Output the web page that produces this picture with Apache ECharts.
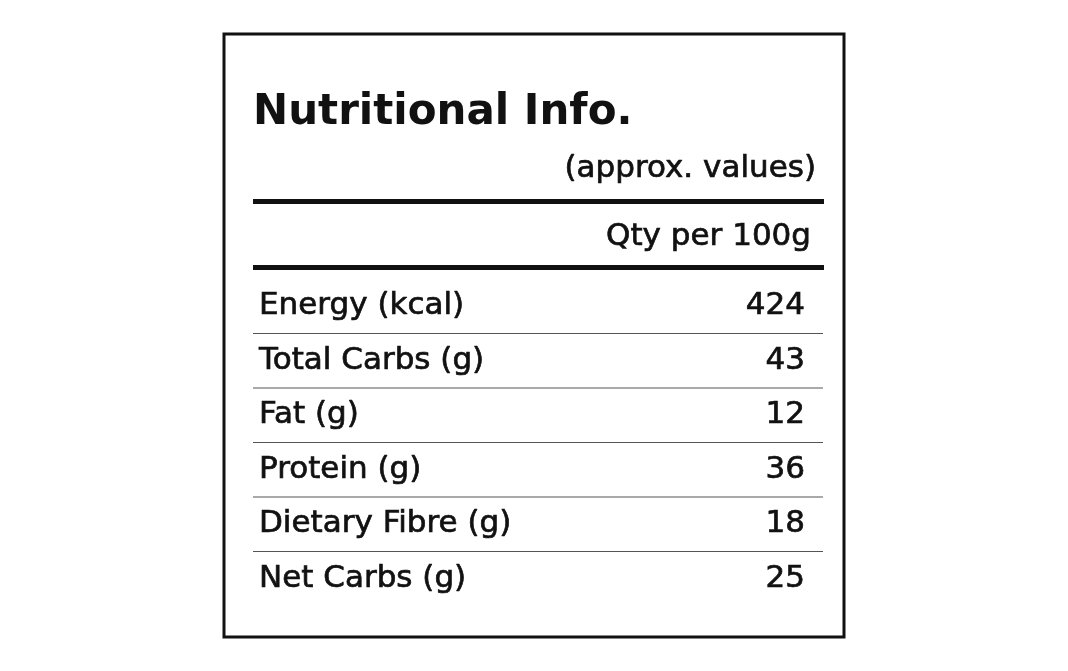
<!DOCTYPE html>
<html>
<head>
<meta charset="UTF-8">
<title>Nutritional Info.</title>
<script src="https://cdn.jsdelivr.net/npm/echarts@6/dist/echarts.min.js"></script>
<style>html,body{margin:0;padding:0;background:#fff;}#main{width:1068px;height:671px;}</style>
</head>
<body>
<div id="main"></div>
<script>
var nutrients = ['Energy (kcal)', 'Total Carbs (g)', 'Fat (g)', 'Protein (g)', 'Dietary Fibre (g)', 'Net Carbs (g)'];
var amounts = [424, 43, 12, 36, 18, 25];

var font = '"DejaVu Sans", sans-serif';
var textStyle = function (s, align) {
    return {text: s, font: '31px ' + font, fill: '#111', stroke: '#111', lineWidth: 0.7, align: align || 'left', verticalAlign: 'middle'};
};
var chart = echarts.init(document.getElementById('main'));

chart.setOption({
    backgroundColor: '#fff',
    animation: false,
    grid: {left: 253, right: 245, top: 279, bottom: 65},
    xAxis: {type: 'value', min: 0, max: 1, show: false},
    yAxis: {type: 'category', data: nutrients, inverse: true, show: false},
    graphic: [
        {type: 'rect', shape: {x: 224, y: 34, width: 620, height: 603}, style: {fill: 'none', stroke: '#111', lineWidth: 3}},
        {type: 'text', x: 253, y: 113, style: {text: 'Nutritional Info.', font: 'bold 42px ' + font, fill: '#111', verticalAlign: 'middle'}},
        {type: 'text', x: 816, y: 169, style: textStyle('(approx. values)', 'right')},
        {type: 'rect', shape: {x: 253, y: 199, width: 571, height: 5}, style: {fill: '#111'}},
        {type: 'text', x: 811, y: 237, style: textStyle('Qty per 100g', 'right')},
        {type: 'rect', shape: {x: 253, y: 265, width: 571, height: 5}, style: {fill: '#111'}}
    ],
    series: [{
        type: 'custom',
        data: amounts.map(function (v, i) { return [i, v]; }),
        renderItem: function (params, api) {
            var i = api.value(0);
            var left = api.coord([0, i]);
            var right = api.coord([1, i]);
            var band = api.size([0, 1])[1];
            var children = [
                {type: 'text', x: left[0] + 6, y: left[1], style: textStyle(nutrients[i])},
                {type: 'text', x: right[0] - 18, y: left[1], style: textStyle(String(api.value(1)), 'right')}
            ];
            if (i < nutrients.length - 1) {
                children.push({type: 'line', shape: {x1: left[0], y1: left[1] + band / 2, x2: right[0], y2: left[1] + band / 2}, style: {stroke: '#555', lineWidth: 1.2}});
            }
            return {type: 'group', children: children};
        }
    }]
});
</script>
</body>
</html>
